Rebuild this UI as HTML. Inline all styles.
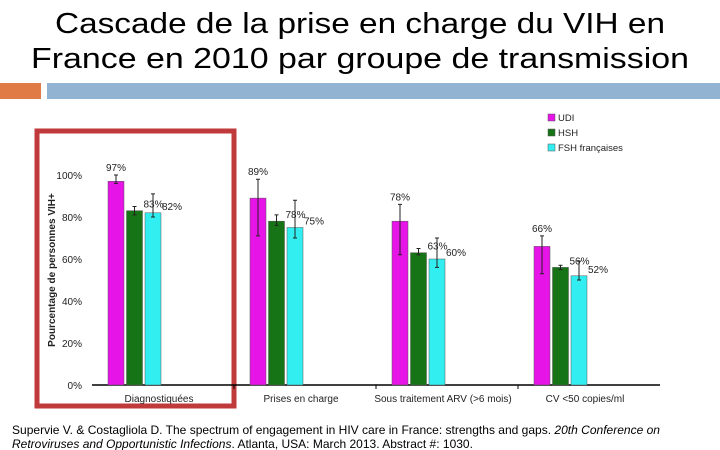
<!DOCTYPE html>
<html><head><meta charset="utf-8"><style>
html,body{margin:0;padding:0;background:#fff;}
svg{display:block;font-family:"Liberation Sans",Arial,sans-serif;}
</style></head><body>
<svg id="c" width="720" height="450" viewBox="0 0 720 450">
<text x="360" y="33" font-size="29" text-anchor="middle" textLength="610" lengthAdjust="spacingAndGlyphs">Cascade de la prise en charge du VIH en</text>
<text x="360" y="68" font-size="29" text-anchor="middle" textLength="658" lengthAdjust="spacingAndGlyphs">France en 2010 par groupe de transmission</text>
<rect x="0" y="83" width="41" height="16" fill="#e07b45"/>
<rect x="47" y="83" width="673" height="16" fill="#93b3d3"/>
<rect x="37" y="131" width="197" height="275" fill="none" stroke="#c0393b" stroke-width="5"/>
<g id="chart"></g>
<text x="12" y="434" font-size="12" textLength="648" lengthAdjust="spacingAndGlyphs">Supervie V. &amp; Costagliola D. The spectrum of engagement in HIV care in France: strengths and gaps. <tspan font-style="italic">20th Conference on</tspan></text>
<text x="12" y="448" font-size="12"><tspan font-style="italic">Retroviruses and Opportunistic Infections</tspan>. Atlanta, USA: March 2013. Abstract #: 1030.</text>
</svg>
<script>
const categories=["Diagnostiquées","Prises en charge","Sous traitement ARV (>6 mois)","CV <50 copies/ml"];
const seriesNames=["UDI","HSH","FSH françaises"];
const udi=[97,89,78,66];
const hsh=[83,78,63,56];
const fsh=[82,75,60,52];
const udiLow=[96,71,62,53], udiHigh=[100,98,86,71];
const hshLow=[81,76,62,55], hshHigh=[85,81,65,57];
const fshLow=[80,70,56,50], fshHigh=[91,88,70,59];
const yTicks=[0,20,40,60,80,100];
const NS="http://www.w3.org/2000/svg";
const g=document.getElementById('chart');
const colors=["#e614e6","#167316","#33eef0"];
const y0=385,pxPer=2.1,xL=92,xR=660,groupW=142,first=108,bw=16;
const yS=v=>y0-v*pxPer;
const xS=(i,s)=>first+i*groupW+s*18.5;
function mk(t,a){const e=document.createElementNS(NS,t);for(const k in a)e.setAttribute(k,a[k]);g.appendChild(e);return e;}
let e;
e=mk('line',{x1:xL,y1:y0,x2:xR,y2:y0,stroke:'#000','stroke-width':1.5});


yTicks.forEach(t=>{
 e=mk('text',{x:82,y:yS(t)+4,'font-size':10,'text-anchor':'end',fill:'#222'});e.textContent=t+'%';
 
 
});
e=mk('text',{transform:'translate(55,270) rotate(-90)','font-size':10,'font-weight':'bold','text-anchor':'middle',fill:'#222'});e.textContent='Pourcentage de personnes VIH+';


[1,2,3].forEach(i=>{e=mk('line',{x1:xL+i*groupW,y1:y0,x2:xL+i*groupW,y2:y0+4,stroke:'#000'});
 
 });
const vals=[udi,hsh,fsh],lows=[udiLow,hshLow,fshLow],highs=[udiHigh,hshHigh,fshHigh];
categories.forEach((c,i)=>{
 vals.forEach((arr,s)=>{
  const x=xS(i,s),v=arr[i];
  e=mk('rect',{x:x,y:yS(v),width:bw,height:v*pxPer,fill:colors[s],stroke:'#555','stroke-width':0.5});
  
  
  const cx=x+bw/2;
  e=mk('path',{d:`M${cx},${yS(highs[s][i])}V${yS(lows[s][i])}M${cx-2},${yS(highs[s][i])}h4M${cx-2},${yS(lows[s][i])}h4`,stroke:'#222','stroke-width':1,fill:'none'});
  
  
  const lx=s==0?cx:x+bw+1, ly=s==0?yS(highs[s][i])-4:yS(v)-3;
  e=mk('text',{x:lx,y:ly,'font-size':10,'text-anchor':s==0?'middle':'start',fill:'#222'});e.textContent=v+'%';
  
  
 });
 e=mk('text',{x:xL+i*groupW+groupW/2-4,y:y0+17,'font-size':10,'text-anchor':'middle',fill:'#222'});e.textContent=c;
 
 
});
seriesNames.forEach((n,s)=>{
 e=mk('rect',{x:548,y:114+s*15,width:7,height:7,fill:colors[s],stroke:'#555','stroke-width':0.5});
 
 
 e=mk('text',{x:558,y:121+s*15,'font-size':9.5,fill:'#222'});e.textContent=n;
 
 
});
</script>
</body></html>
